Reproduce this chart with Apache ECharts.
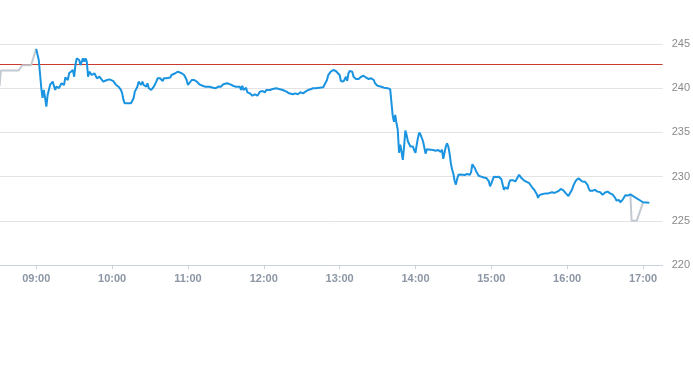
<!DOCTYPE html>
<html>
<head>
<meta charset="utf-8">
<script src="https://cdn.jsdelivr.net/npm/echarts@6/dist/echarts.min.js"></script>
<style>
html,body{margin:0;padding:0;background:#fff;}
#chart{width:693px;height:365px;}
</style>
</head>
<body>
<div id="chart"></div>
<script>
// ---- data ----
var preTimes  = ['08:31','08:32','08:46','08:49','08:56','08:57','09:00'];
var preValues = [240.25, 242.0, 242.0, 242.6, 242.6, 243.1, 244.45];

var mainTimes = [
'09:00','09:02','09:04','09:05','09:06','09:07','09:08','09:09','09:11','09:12','09:13','09:15','09:16','09:18','09:20','09:22','09:23','09:25','09:26','09:27','09:29','09:30','09:31','09:32','09:34','09:35','09:37','09:38','09:39','09:40','09:41','09:42','09:44','09:46','09:48','09:50','09:53','09:56','09:58',
'10:01','10:03','10:05','10:07','10:08','10:09','10:10','10:11','10:13','10:14','10:15','10:17','10:18','10:20','10:21','10:23','10:24','10:25','10:27','10:28','10:29','10:31','10:32','10:33','10:35','10:36','10:37','10:38','10:40','10:41','10:43','10:44','10:46','10:47','10:48','10:50','10:51','10:52','10:53','10:55','10:56','10:57','10:59',
'11:00','11:01','11:03','11:04','11:05','11:07','11:09','11:12','11:14','11:17','11:20','11:22','11:24','11:25','11:26','11:28','11:29','11:31','11:32','11:34','11:36','11:38','11:39','11:41','11:42','11:43','11:44','11:46','11:47','11:48','11:49','11:51','11:53','11:55','11:57','11:58','11:59',
'12:01','12:02','12:03','12:05','12:07','12:10','12:12','12:15','12:18','12:20','12:23','12:25','12:27','12:29','12:31','12:33','12:35','12:37','12:39','12:41','12:44','12:47','12:48','12:50','12:51','12:53','12:55','12:57','12:58',
'13:00','13:01','13:03','13:05','13:06','13:07','13:08','13:10','13:11','13:13','13:15','13:17','13:19','13:21','13:23','13:25','13:27','13:28','13:30','13:33','13:35','13:38','13:40','13:41','13:42','13:43','13:44','13:45','13:46','13:47','13:48','13:49','13:50','13:51','13:52','13:53','13:54','13:55','13:56','13:57','13:58','13:59',
'14:00','14:01','14:02','14:03','14:04','14:05','14:06','14:07','14:08','14:09','14:10','14:12','14:14','14:16','14:18','14:19','14:20','14:21','14:22','14:23','14:24','14:25','14:26','14:27','14:28','14:29','14:30','14:31','14:32','14:33','14:34','14:35','14:36','14:37','14:39','14:41','14:43','14:44','14:45','14:46','14:47','14:48','14:50','14:52','14:54','14:55','14:56','14:57','14:58','14:59',
'15:00','15:01','15:02','15:03','15:04','15:05','15:06','15:07','15:08','15:09','15:10','15:11','15:12','15:13','15:14','15:15','15:16','15:17','15:18','15:19','15:20','15:21','15:22','15:23','15:24','15:26','15:28','15:30','15:32','15:34','15:36','15:37','15:38','15:40','15:43','15:45','15:48','15:50','15:53','15:55','15:56','15:57','15:59',
'16:01','16:02','16:04','16:05','16:06','16:07','16:08','16:09','16:10','16:12','16:14','16:15','16:16','16:17','16:18','16:20','16:22','16:23','16:24','16:25','16:26','16:27','16:28','16:29','16:30','16:32','16:34','16:35','16:36','16:37','16:38','16:39','16:40','16:41','16:42','16:43','16:44','16:45','16:46','16:47','16:48','16:49','16:50',
'17:00','17:05'
];
var mainValues = [
244.45,243.19,240.02,238.9,239.8,238.9,237.91,239.23,240.4,240.56,240.74,239.8,240.17,240.02,240.56,240.36,241.23,240.93,241.69,241.49,242.06,241.3,242.62,243.38,243.19,242.62,243.38,243.0,243.38,243.0,241.3,241.87,241.49,241.69,241.12,241.3,240.74,240.93,241.0,
240.8,240.4,240.17,239.8,239.42,238.67,238.29,238.47,238.29,238.47,238.29,238.86,239.61,240.17,240.74,240.36,240.74,240.36,240.17,240.56,239.99,239.8,239.99,240.17,240.74,241.12,240.93,241.12,240.82,241.12,241.12,241.3,241.2,241.49,241.4,241.69,241.69,241.87,241.8,241.69,241.75,241.49,240.93,
240.36,240.56,240.93,241.04,240.93,240.74,240.44,240.25,240.17,240.17,240.06,239.99,240.2,239.99,240.17,240.44,240.56,240.56,240.44,240.4,240.25,240.17,240.0,240.17,239.8,240.28,239.8,240.06,239.54,239.68,239.42,239.15,239.31,239.15,239.61,239.42,239.68,
239.54,239.8,239.68,239.8,239.91,239.99,239.91,239.8,239.61,239.42,239.31,239.42,239.31,239.54,239.42,239.61,239.8,239.88,239.99,239.99,240.06,240.1,240.06,240.93,241.49,241.87,242.06,241.95,242.06,
241.49,240.82,240.74,241.3,240.82,241.69,241.95,241.87,241.3,241.04,241.04,241.3,241.41,241.19,241.04,241.12,240.93,240.56,240.28,240.17,240.06,239.99,239.9,239.88,236.9,236.2,236.97,236.03,235.3,232.7,233.6,232.8,231.9,233.4,235.2,234.7,234.0,234.14,233.4,233.5,233.4,233.0,
232.7,233.6,234.4,235.0,234.75,234.6,234.0,233.3,232.6,233.1,233.2,233.05,233.0,232.93,233.0,232.9,232.8,233.05,232.0,232.7,233.4,233.75,233.4,232.6,231.5,230.8,230.3,229.5,229.1,229.75,230.2,230.1,230.25,230.25,230.18,230.3,230.2,230.5,231.4,231.3,230.95,230.6,230.1,230.0,229.9,229.95,229.85,229.7,229.5,228.9,
229.2,229.6,229.99,230.1,229.95,229.8,229.99,229.85,229.7,229.55,228.5,228.8,228.7,228.6,229.25,229.6,229.5,229.6,229.8,229.45,229.7,229.9,230.2,230.0,229.8,229.55,229.4,229.25,228.85,228.5,228.0,227.6,227.9,228.0,228.1,228.1,228.23,228.15,228.35,228.6,228.65,228.45,228.1,
227.8,228.0,228.57,229.0,229.3,229.55,229.75,229.8,229.6,229.45,229.43,229.3,229.1,228.7,228.4,228.4,228.5,228.4,228.3,228.41,228.25,228.1,227.95,228.1,228.2,228.3,228.1,228.2,227.95,227.8,227.6,227.3,227.2,227.35,227.1,227.3,227.4,227.5,227.9,227.8,227.85,227.92,228.0,
227.1,227.05
];

var postTimes  = ['16:50','16:51','16:55','17:00'];
var postValues = [228.0, 225.0, 225.0, 227.05];

var referencePrice = 242.68;
var xTickLabels = ['09:00','10:00','11:00','12:00','13:00','14:00','15:00','16:00','17:00'];
var yTickLabels = [220, 225, 230, 235, 240, 245];

// ---- helpers ----
function toMin(t){ var p = t.split(':'); return (+p[0]) * 60 + (+p[1]); }
function pad(n){ return (n < 10 ? '0' : '') + n; }
function fmt(m){ m = Math.round(m); return pad(Math.floor(m / 60)) + ':' + pad(m % 60); }
function pairs(ts, vs){ return ts.map(function(t, i){ return [toMin(t), vs[i]]; }); }

var chart = echarts.init(document.getElementById('chart'), null, {renderer: 'canvas'});
var font = "'Liberation Sans', Arial, sans-serif";
var tickPos = xTickLabels.map(toMin);
var xMin = 511.33, xMax = 1035.55;

chart.setOption({
  animation: false,
  backgroundColor: '#ffffff',
  grid: {left: 0, right: 29, top: 44, bottom: 100, containLabel: false},
  xAxis: {
    type: 'value',
    min: xMin,
    max: xMax,
    axisLine: {show: true, lineStyle: {color: '#ccd2dc', width: 1}},
    axisTick: {show: true, length: 4, customValues: tickPos, lineStyle: {color: '#ccd2dc'}},
    axisLabel: {
      customValues: tickPos,
      formatter: function(v){ return fmt(v); },
      color: '#8c96a4', fontWeight: 'bold', fontSize: 11, fontFamily: font, margin: 8
    },
    splitLine: {show: false}
  },
  yAxis: {
    type: 'value',
    position: 'right',
    min: yTickLabels[0],
    max: yTickLabels[yTickLabels.length - 1],
    interval: 5,
    axisLine: {show: false},
    axisTick: {show: false},
    axisLabel: {color: '#8a8a8a', fontSize: 11, fontFamily: font, margin: 9},
    splitLine: {lineStyle: {color: '#e3e3e3', width: 1}}
  },
  series: [
    {
      type: 'line', name: 'reference', data: [[xMin, referencePrice], [xMax, referencePrice]],
      showSymbol: false, symbol: 'none', silent: true,
      color: '#c93a2f',
      lineStyle: {color: '#c93a2f', width: 1}, z: 1
    },
    {
      type: 'line', name: 'pre', data: pairs(preTimes, preValues),
      showSymbol: false, symbol: 'none',
      lineStyle: {color: '#c2c9d1', width: 2}, z: 2
    },
    {
      type: 'line', name: 'post', data: pairs(postTimes, postValues),
      showSymbol: false, symbol: 'none',
      lineStyle: {color: '#c2c9d1', width: 2}, z: 2
    },
    {
      type: 'line', name: 'main', data: pairs(mainTimes, mainValues),
      showSymbol: false, symbol: 'none',
      color: '#1a93e0',
      lineStyle: {color: '#1a93e0', width: 2}, z: 3
    }
  ]
});
</script>
</body>
</html>
